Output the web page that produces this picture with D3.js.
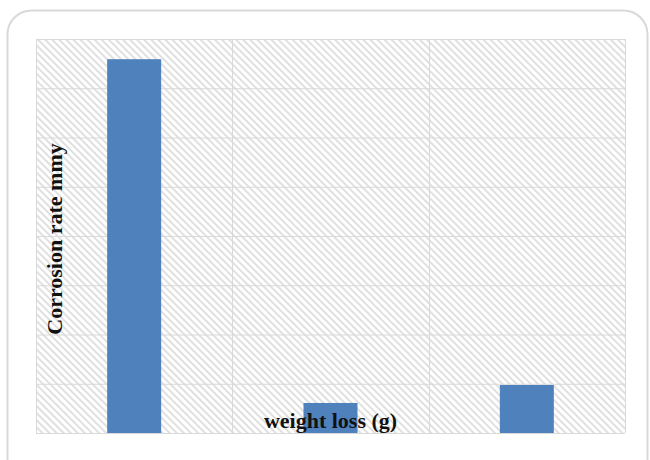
<!DOCTYPE html>
<html>
<head>
<meta charset="utf-8">
<script src="https://cdn.jsdelivr.net/npm/d3@7"></script>
<style>
  html, body { margin: 0; padding: 0; background: #fff; }
  svg { display: block; }
</style>
</head>
<body>
<svg id="chart" width="650" height="460"></svg>
<script>
// Samples along the x axis and their corrosion rates
const categories = ["1", "2", "3"];
const corrosionRate = [7.59, 0.61, 0.975];
const yTicks = [0, 1, 2, 3, 4, 5, 6, 7, 8];
const yTitle = "Corrosion rate mmy";
const xTitle = "weight loss (g)";

const W = 650, H = 460;
const margin = { left: 36, top: 39, right: 25, bottom: 27 };
const innerW = W - margin.left - margin.right;
const innerH = H - margin.top - margin.bottom;

const svg = d3.select("#chart");

// Diagonal hatch fill for the plot area
const defs = svg.append("defs");
const pat = defs.append("pattern")
  .attr("id", "hatch")
  .attr("patternUnits", "userSpaceOnUse")
  .attr("width", 5).attr("height", 5)
  .attr("patternTransform", "rotate(-45)");
pat.append("rect").attr("width", 5).attr("height", 5).attr("fill", "#ffffff");
pat.append("rect").attr("x", 0).attr("y", 0).attr("width", 1.8).attr("height", 5).attr("fill", "#dddddd");

// Rounded chart frame
svg.append("rect")
  .attr("x", 7.5).attr("y", 10.5)
  .attr("width", 640).attr("height", 472)
  .attr("rx", 24).attr("ry", 24)
  .attr("fill", "#ffffff")
  .attr("stroke", "#d9d9d9")
  .attr("stroke-width", 2);

const g = svg.append("g").attr("transform", `translate(${margin.left},${margin.top})`);

const y = d3.scaleLinear().domain([0, d3.max(yTicks)]).range([innerH, 0]);
const xCell = d3.scaleBand().domain(categories).range([0, innerW]).padding(0);
const xBar = d3.scaleBand().domain(categories).range([0, innerW])
  .paddingInner(0.725).paddingOuter(0.3625);

g.append("rect")
  .attr("width", innerW).attr("height", innerH)
  .attr("fill", "url(#hatch)");

// Horizontal gridlines
g.append("g")
  .attr("class", "grid-y")
  .call(d3.axisLeft(y).tickValues(yTicks).tickSize(-innerW).tickFormat(""))
  .call(s => s.select(".domain").remove())
  .call(s => s.selectAll("line").attr("stroke", "#d9d9d9").attr("stroke-width", 1));

// Vertical gridlines at category boundaries
const vLines = categories.map(c => xCell(c)).concat([innerW]);
g.append("g")
  .selectAll("line")
  .data(vLines)
  .join("line")
  .attr("x1", d => Math.round(d) + 0.5).attr("x2", d => Math.round(d) + 0.5)
  .attr("y1", 0).attr("y2", innerH)
  .attr("stroke", "#d9d9d9").attr("stroke-width", 1);

// Bars
g.append("g")
  .selectAll("rect")
  .data(categories.map((c, i) => ({ c, v: corrosionRate[i] })))
  .join("rect")
  .attr("x", d => xBar(d.c))
  .attr("y", d => y(d.v))
  .attr("width", xBar.bandwidth())
  .attr("height", d => innerH - y(d.v))
  .attr("fill", "#4f81bd");

// Axis titles
g.append("text")
  .attr("x", innerW / 2)
  .attr("y", innerH - 5)
  .attr("text-anchor", "middle")
  .attr("font-family", "'Liberation Serif', 'Times New Roman', serif")
  .attr("font-weight", "bold")
  .attr("font-size", 22)
  .attr("fill", "#111111")
  .text(xTitle);

g.append("text")
  .attr("transform", `translate(${62 - margin.left},${innerH / 2 + 3}) rotate(-90)`)
  .attr("text-anchor", "middle")
  .attr("font-family", "'Liberation Serif', 'Times New Roman', serif")
  .attr("font-weight", "bold")
  .attr("font-size", 22)
  .attr("fill", "#111111")
  .text(yTitle);
</script>
</body>
</html>
